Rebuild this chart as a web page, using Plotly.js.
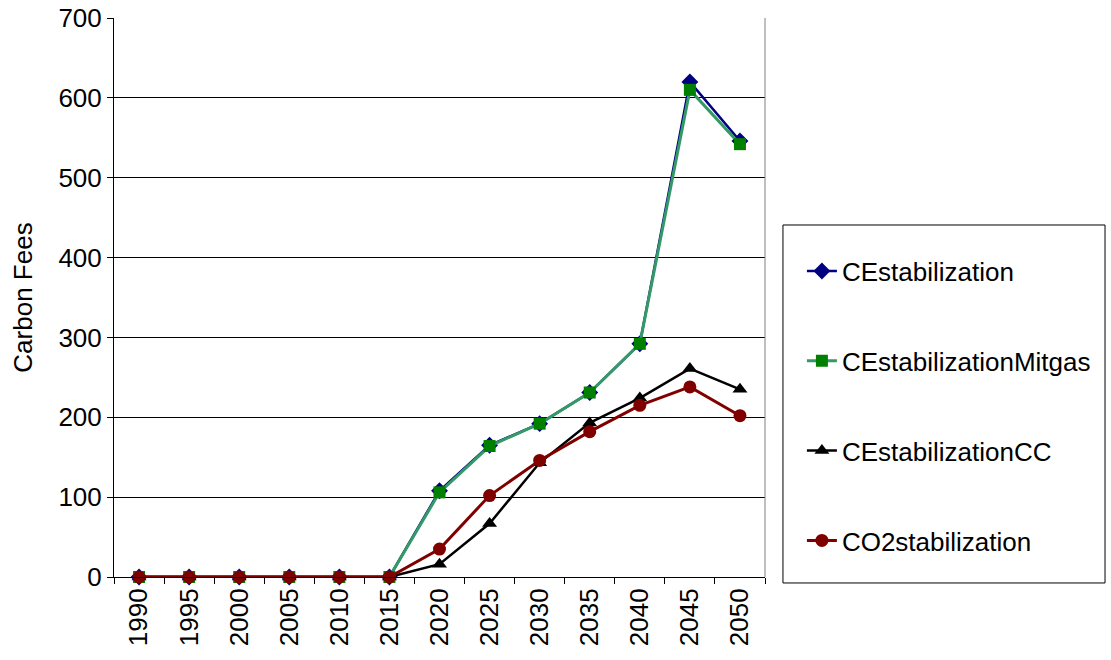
<!DOCTYPE html>
<html><head><meta charset="utf-8">
<script src="https://cdn.plot.ly/plotly-3.0.1.min.js"></script>
<style>html,body{margin:0;padding:0;background:#fff}#chart{width:1111px;height:660px}</style>
</head><body><div id="chart"></div>
<script>
const years = ['1990','1995','2000','2005','2010','2015','2020','2025','2030','2035','2040','2045','2050'];
const ceStab = [0,0,0,0,0,0,108,165,192,231,292,620,546];
const ceStabMitgas = [0,0,0,0,0,0,106,164,192,231,292,610,542];
const ceStabCC = [0,0,0,0,0,0,16,67,143,193,224,261,235];
const co2Stab = [0,0,0,0,0,0,35,102,146,182,215,238,202];
const yTicks = [0,100,200,300,400,500,600,700];

const traces = [
  {name:'CEstabilization', y:ceStab, line:{color:'#000080',width:2.5}, marker:{symbol:'diamond',size:13,color:'#000080'}},
  {name:'CEstabilizationMitgas', y:ceStabMitgas, line:{color:'#339966',width:3}, marker:{symbol:'square',size:12,color:'#008000'}},
  {name:'CEstabilizationCC', y:ceStabCC, line:{color:'#000000',width:2.5}, marker:{symbol:'triangle-up',size:13,color:'#000000'}},
  {name:'CO2stabilization', y:co2Stab, line:{color:'#800000',width:3}, marker:{symbol:'circle',size:13,color:'#800000'}}
].map((t,i)=>Object.assign({type:'scatter',mode:'lines+markers',x:years,legendgroup:'g'+i,cliponaxis:false},t));

const layout = {
  width:1111, height:660,
  margin:{l:114,r:346,t:18,b:83,pad:0},
  paper_bgcolor:'#fff', plot_bgcolor:'#fff',
  font:{family:'Liberation Sans, Arial, sans-serif',size:26,color:'#000'},
  showlegend:true,
  legend:{x:1.0567,xanchor:'left',y:0.5893,yanchor:'top',borderwidth:0,
    font:{size:26},tracegroupgap:53,traceorder:'grouped',
    bgcolor:'rgba(0,0,0,0)'},
  xaxis:{type:'category',tickson:'boundaries',ticks:'outside',ticklen:6,tickcolor:'#000',
    showline:true,linecolor:'#000',linewidth:1,showgrid:false,tickangle:-90,
    tickfont:{size:26},zeroline:false,range:[-0.5,12.5]},
  yaxis:{range:[0,700],tickvals:yTicks,ticks:'outside',ticklen:6,tickcolor:'#000',
    showline:true,linecolor:'#000',linewidth:1,showgrid:true,gridcolor:'#000',gridwidth:1,
    zeroline:false,tickfont:{size:26},
    title:{text:'Carbon Fees',font:{size:26},standoff:18}},
  shapes:[
    {type:'line',xref:'paper',yref:'paper',x0:1,x1:1,y0:0,y1:1,line:{color:'#808080',width:1}},
    {type:'rect',xref:'paper',yref:'paper',x0:1.0276,x1:1.5223,y0:-0.0107,y1:0.6297,line:{color:'#000',width:1},fillcolor:'rgba(0,0,0,0)'}
  ]
};
Plotly.newPlot('chart',traces,layout,{displayModeBar:false,staticPlot:true});
</script></body></html>
